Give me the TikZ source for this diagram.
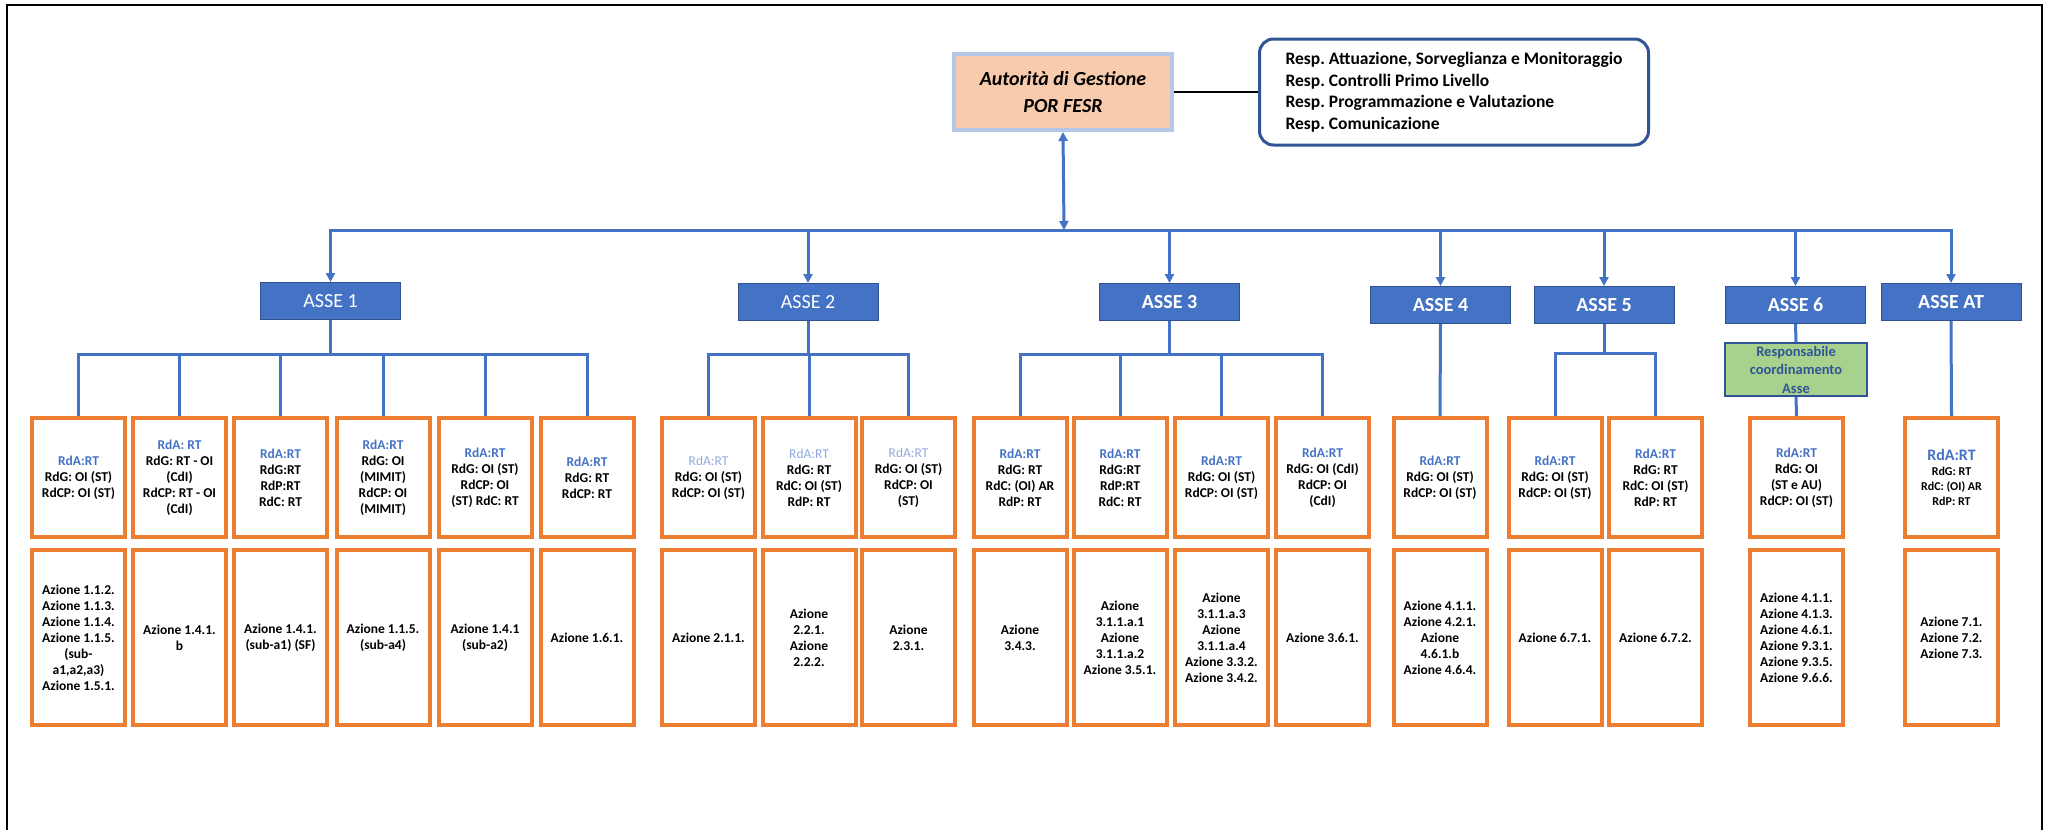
\documentclass[tikz,border=0pt]{standalone}
\usepackage{fontspec}
\setmainfont{Carlito}
\usetikzlibrary{arrows.meta,positioning}

\definecolor{asseblue}{HTML}{4472C4}
\definecolor{asseline}{HTML}{2F528F}
\definecolor{colorange}{HTML}{ED7D31}
\definecolor{adgfill}{HTML}{F8CBAD}
\definecolor{adgline}{HTML}{B4C7E7}
\definecolor{respline}{HTML}{2F5597}
\definecolor{rcfill}{HTML}{A9D18E}
\definecolor{rdalight}{HTML}{8FAADC}

\newcommand{\rdx}[1]{\textcolor{asseblue}{#1}}
\newcommand{\rdlite}[1]{\textcolor{rdalight}{\mdseries #1}}

\tikzset{
  adg/.style={draw=adgline,line width=4pt,fill=adgfill,minimum width=218pt,minimum height=76pt,
    align=center,font=\fontsize{20}{27}\selectfont\bfseries\itshape},
  resp/.style={draw=respline,line width=3pt,rounded corners=14pt,fill=white,minimum width=389pt,
    minimum height=106pt,align=left,inner xsep=14pt,font=\fontsize{17.5}{21.5}\selectfont\bfseries},
  asse/.style={draw=asseline,line width=1pt,fill=asseblue,text=white,minimum width=140pt,
    minimum height=37pt,font=\fontsize{20}{24}\selectfont},
  asseb/.style={asse,font=\fontsize{20}{24}\selectfont\bfseries},
  rc/.style={draw=respline,line width=2pt,fill=rcfill,text=respline,minimum width=142pt,
    minimum height=53pt,align=center,inner sep=1pt,font=\fontsize{14.5}{18.5}\selectfont\bfseries},
  rbox/.style={draw=colorange,line width=4pt,minimum width=93pt,minimum height=119pt,
    align=center,inner sep=2pt,font=\fontsize{13.5}{16}\selectfont\bfseries},
  abox/.style={rbox,minimum height=175pt},
  conn/.style={draw=asseblue,line width=3pt},
  downarr/.style={-{Triangle[length=9pt,width=9pt]}},
}

\begin{document}
\frenchspacing
\begin{tikzpicture}
  \useasboundingbox (0pt,0pt) rectangle (2051pt,-830pt);
  \draw[line width=2pt] (7pt,-835pt) -- (7pt,-5pt) -- (2042pt,-5pt) -- (2042pt,-835pt);

  % vertice
  \draw (1063pt, -92pt)node[adg](adg){Autorità di Gestione\\POR FESR};
  \draw (1454pt, -92pt)node[resp](resp){Resp. Attuazione, Sorveglianza e Monitoraggio\\Resp. Controlli Primo Livello\\Resp. Programmazione e Valutazione\\Resp. Comunicazione};
  \draw[line width=1.5pt] (adg.east) -- (resp.west);

  % assi
  \draw (330.5pt, -301pt)node[asse](asse1){ASSE 1};
  \draw (808pt, -302pt)node[asse](asse2){ASSE 2};
  \draw (1169.5pt, -302pt)node[asseb](asse3){ASSE 3};
  \draw (1440.5pt, -305pt)node[asseb](asse4){ASSE 4};
  \draw (1604pt, -305pt)node[asseb](asse5){ASSE 5};
  \draw (1795.5pt, -305pt)node[asseb](asse6){ASSE 6};
  \draw (1951pt, -302pt)node[asseb](asseat){ASSE AT};
  \draw (1796pt, -369.5pt)node[rc](rc6){Responsabile\\coordinamento\\Asse};

  % ASSE 1
  \draw (78.5pt, -477.5pt)node[rbox](c11){\rdx{RdA:RT}\\RdG: OI (ST)\\RdCP: OI (ST)};
  \draw (179.5pt, -477.5pt)node[rbox](c12){\rdx{RdA: RT}\\RdG: RT - OI\\(CdI)\\RdCP: RT - OI\\(CdI)};
  \draw (280.5pt, -477.5pt)node[rbox](c13){\rdx{RdA:RT}\\RdG:RT\\RdP:RT\\RdC: RT};
  \draw (383pt, -477.5pt)node[rbox](c14){\rdx{RdA:RT}\\RdG: OI\\(MIMIT)\\RdCP: OI\\(MIMIT)};
  \draw (485pt, -477.5pt)node[rbox](c15){\rdx{RdA:RT}\\RdG: OI (ST)\\RdCP: OI\\(ST) RdC: RT};
  \draw (587pt, -477.5pt)node[rbox](c16){\rdx{RdA:RT}\\RdG: RT\\RdCP: RT};
  \draw (78.5pt, -637.5pt)node[abox](a11){Azione 1.1.2.\\Azione 1.1.3.\\Azione 1.1.4.\\Azione 1.1.5.\\(sub-\\a1,a2,a3)\\Azione 1.5.1.};
  \draw (179.5pt, -637.5pt)node[abox](a12){Azione 1.4.1.\\b};
  \draw (280.5pt, -637.5pt)node[abox](a13){Azione 1.4.1.\\(sub-a1) (SF)};
  \draw (383pt, -637.5pt)node[abox](a14){Azione 1.1.5.\\(sub-a4)};
  \draw (485pt, -637.5pt)node[abox](a15){Azione 1.4.1\\(sub-a2)};
  \draw (587pt, -637.5pt)node[abox](a16){Azione 1.6.1.};

  % ASSE 2
  \draw (708.5pt, -477.5pt)node[rbox](c21){\rdlite{RdA:RT}\\RdG: OI (ST)\\RdCP: OI (ST)};
  \draw (809pt, -477.5pt)node[rbox](c22){\rdlite{RdA:RT}\\RdG: RT\\RdC: OI (ST)\\RdP: RT};
  \draw (908.5pt, -477.5pt)node[rbox](c23){\rdlite{RdA:RT}\\RdG: OI (ST)\\RdCP: OI\\(ST)};
  \draw (708.5pt, -637.5pt)node[abox](a21){Azione 2.1.1.};
  \draw (809pt, -637.5pt)node[abox](a22){Azione\\2.2.1.\\Azione\\2.2.2.};
  \draw (908.5pt, -637.5pt)node[abox](a23){Azione\\2.3.1.};

  % ASSE 3
  \draw (1020pt, -477.5pt)node[rbox](c31){\rdx{RdA:RT}\\RdG: RT\\RdC: (OI) AR\\RdP: RT};
  \draw (1120pt, -477.5pt)node[rbox](c32){\rdx{RdA:RT}\\RdG:RT\\RdP:RT\\RdC: RT};
  \draw (1221.5pt, -477.5pt)node[rbox](c33){\rdx{RdA:RT}\\RdG: OI (ST)\\RdCP: OI (ST)};
  \draw (1322.5pt, -477.5pt)node[rbox](c34){\rdx{RdA:RT}\\RdG: OI (CdI)\\RdCP: OI\\(CdI)};
  \draw (1020pt, -637.5pt)node[abox](a31){Azione\\3.4.3.};
  \draw (1120pt, -637.5pt)node[abox](a32){Azione\\3.1.1.a.1\\Azione\\3.1.1.a.2\\Azione 3.5.1.};
  \draw (1221.5pt, -637.5pt)node[abox](a33){Azione\\3.1.1.a.3\\Azione\\3.1.1.a.4\\Azione 3.3.2.\\Azione 3.4.2.};
  \draw (1322.5pt, -637.5pt)node[abox](a34){Azione 3.6.1.};

  % ASSE 4, 5, 6, AT
  \draw (1440pt, -477.5pt)node[rbox](c41){\rdx{RdA:RT}\\RdG: OI (ST)\\RdCP: OI (ST)};
  \draw (1440pt, -637.5pt)node[abox](a41){Azione 4.1.1.\\Azione 4.2.1.\\Azione\\4.6.1.b\\Azione 4.6.4.};
  \draw (1555pt, -477.5pt)node[rbox](c51){\rdx{RdA:RT}\\RdG: OI (ST)\\RdCP: OI (ST)};
  \draw (1655.5pt, -477.5pt)node[rbox](c52){\rdx{RdA:RT}\\RdG: RT\\RdC: OI (ST)\\RdP: RT};
  \draw (1555pt, -637.5pt)node[abox](a51){Azione 6.7.1.};
  \draw (1655.5pt, -637.5pt)node[abox](a52){Azione 6.7.2.};
  \draw (1796.5pt, -477.5pt)node[rbox](c61){\rdx{RdA:RT}\\RdG: OI\\(ST e AU)\\RdCP: OI (ST)};
  \draw (1796.5pt, -637.5pt)node[abox](a61){Azione 4.1.1.\\Azione 4.1.3.\\Azione 4.6.1.\\Azione 9.3.1.\\Azione 9.3.5.\\Azione 9.6.6.};
  \draw (1951.5pt, -477.5pt)node[rbox,font=\fontsize{12}{15}\selectfont\bfseries](cat){\rdx{\fontsize{16}{16}\selectfont RdA:RT}\\RdG: RT\\RdC: (OI) AR\\RdP: RT};
  \draw (1951.5pt, -637.5pt)node[abox](aat){Azione 7.1.\\Azione 7.2.\\Azione 7.3.};

  % collegamenti
  \coordinate (bus) at (1064pt, -230pt);
  \draw[conn,{Triangle[length=9pt,width=9pt]}-{Triangle[length=9pt,width=9pt]}] (adg.south) -- (bus);
  \draw[conn,downarr] (bus) -| (asse1.north);
  \draw[conn,downarr] (bus) -| (asse2.north);
  \draw[conn,downarr] (bus) -| (asse3.north);
  \draw[conn,downarr] (bus) -| (asse4.north);
  \draw[conn,downarr] (bus) -| (asse5.north);
  \draw[conn,downarr] (bus) -| (asse6.north);
  \draw[conn,downarr] (bus) -| (asseat.north);

  \coordinate (s1) at (330.5pt, -354pt);
  \draw[conn] (asse1.south) -- (s1);
  \draw[conn] (s1) -| (c11.north);
  \draw[conn] (s1) -| (c12.north);
  \draw[conn] (s1) -| (c13.north);
  \draw[conn] (s1) -| (c14.north);
  \draw[conn] (s1) -| (c15.north);
  \draw[conn] (s1) -| (c16.north);

  \coordinate (s2) at (808pt, -354pt);
  \draw[conn] (asse2.south) -- (s2);
  \draw[conn] (s2) -| (c21.north);
  \draw[conn] (s2) -| (c22.north);
  \draw[conn] (s2) -| (c23.north);

  \coordinate (s3) at (1169.5pt, -354pt);
  \draw[conn] (asse3.south) -- (s3);
  \draw[conn] (s3) -| (c31.north);
  \draw[conn] (s3) -| (c32.north);
  \draw[conn] (s3) -| (c33.north);
  \draw[conn] (s3) -| (c34.north);

  \draw[conn] (asse4.south) -- (c41.north);

  \coordinate (s5) at (1604pt, -353pt);
  \draw[conn] (asse5.south) -- (s5);
  \draw[conn] (s5) -| (c51.north);
  \draw[conn] (s5) -| (c52.north);

  \draw[conn] (asse6.south) -- (rc6.north);
  \draw[conn] (rc6.south) -- (c61.north);
  \draw[conn] (asseat.south) -- (cat.north);
\end{tikzpicture}
\end{document}
